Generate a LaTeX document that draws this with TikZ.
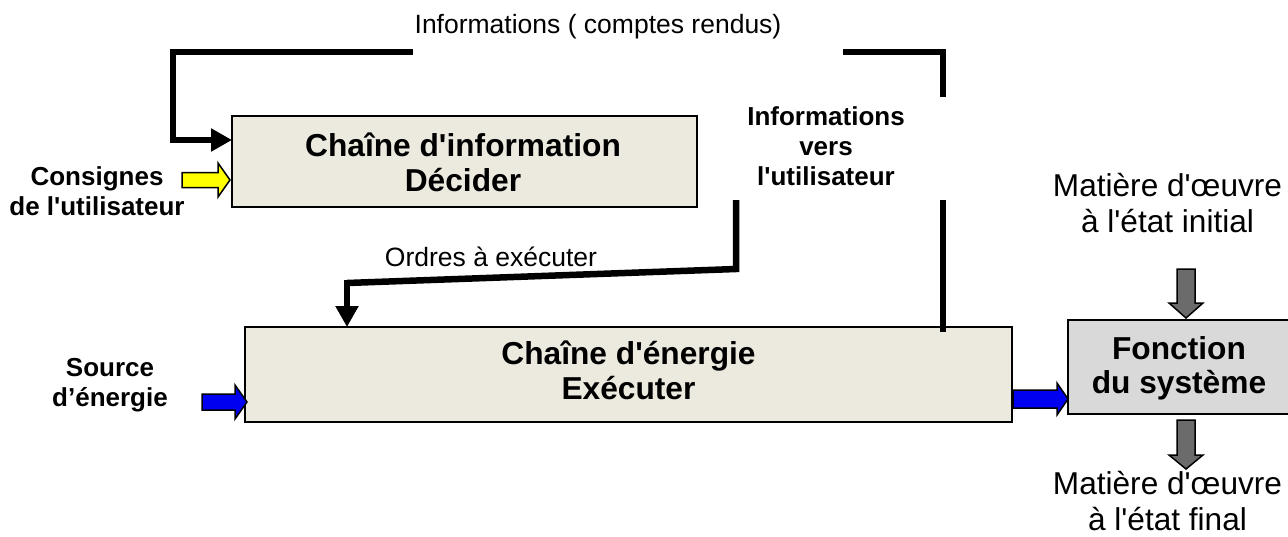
\documentclass[tikz,border=0pt]{standalone}
\usepackage{fontspec}
\setmainfont{Liberation Sans}
\usetikzlibrary{arrows.meta,calc}
\newcommand\aq{\textquotesingle}
\definecolor{beige}{HTML}{ECE9DF}
\definecolor{boxgray}{HTML}{D9D9D9}
\definecolor{arrgray}{HTML}{6B6B6B}
\definecolor{myblue}{HTML}{0000F0}
\definecolor{myyellow}{HTML}{FFFF00}
\tikzset{
  chainbox/.style={draw=black, line width=2pt, fill=beige},
  thick line/.style={line width=6.5pt, line cap=butt},
  feedarrow/.style={thick line, -{Triangle[width=22pt,length=21pt]}},
  small/.style={font=\fontsize{26.5}{30.5}\selectfont, align=center, inner sep=0pt},
  smallbold/.style={font=\bfseries\fontsize{26}{30}\selectfont, align=center, inner sep=0pt},
  boxtext/.style={font=\bfseries\fontsize{31.7}{34.5}\selectfont, align=center, inner sep=0pt},
  big/.style={font=\fontsize{31.6}{35.5}\selectfont, align=center, inner sep=0pt},
  blockarrow/.style={draw=black, line width=1.5pt, line join=miter},
}
\begin{document}
\begin{tikzpicture}[x=1pt,y=-1pt]
\useasboundingbox (0,0) rectangle (1288,536);

% boxes
\draw[chainbox] (232,116) rectangle (697,207);
\node[boxtext] (info) at (463,162.5) {Chaîne d\aq information\\Décider};
\draw[chainbox] (245,327) rectangle (1012,422);
\node[boxtext] (energ) at (628.5,370.5) {Chaîne d\aq énergie\\Exécuter};
\draw[draw=black, line width=2pt, fill=boxgray] (1068,320) rectangle (1289,414);
\node[boxtext] (fct) at (1179,368.5) {Fonction\\du système};

% texts
\node[small] (comptes) at (598,27) {Informations ( comptes rendus)};
\node[smallbold] (consignes) at (97,191) {Consignes\\de l\aq utilisateur};
\node[smallbold] (versutil) at (826,146) {Informations\\vers\\l\aq utilisateur};
\node[small] (ordres) at (491,257) {Ordres à exécuter};
\node[smallbold] (source) at (110,385) {Source\\d’énergie};
\node[big] (mi) at (1167.5,203) {Matière d\aq œuvre\\à l\aq état initial};
\node[big] (mf) at (1167.5,501) {Matière d\aq œuvre\\à l\aq état final};

% feedback lines (comptes rendus)
\coordinate (fa) at (413,52);
\coordinate (fb) at (173,52);
\coordinate (fc) at (173,140);
\coordinate (fd) at (232,140);
\draw[thick line] (fa) -- (fb) -- (fc);
\draw[feedarrow] ($(fc)+(-3,0)$) -- (fd);
\coordinate (fe) at (843,52);
\coordinate (ff) at (943,52);
\coordinate (fg) at (943,97);
\draw[thick line] (fe) -- (ff) -- (fg);
\coordinate (fh) at (943,200);
\coordinate (fi) at (943,332);
\draw[thick line] (fh) -- (fi);

% orders
\coordinate (oa) at (736,200);
\coordinate (ob) at (736,269);
\coordinate (oc) at (347,283);
\coordinate (od) at (347,327);
\draw[thick line] (oa) -- (ob) -- (oc);
\draw[feedarrow] ($(oc)+(0,-3)$) -- (od);

% block arrows
\filldraw[blockarrow, fill=myyellow] (182,172.5) -- (218,172.5) -- (218,163) -- (230,180) -- (218,197) -- (218,187.5) -- (182,187.5) -- cycle;
\filldraw[blockarrow, fill=myblue] (202,394) -- (235,394) -- (235,385) -- (247,402) -- (235,419) -- (235,410) -- (202,410) -- cycle;
\filldraw[blockarrow, fill=myblue] (1013,390) -- (1057,390) -- (1057,383) -- (1068,399) -- (1057,415) -- (1057,408) -- (1013,408) -- cycle;
\filldraw[blockarrow, fill=arrgray] (1177,269) -- (1177,303) -- (1169,303) -- (1186,318) -- (1203,303) -- (1195,303) -- (1195,269) -- cycle;
\filldraw[blockarrow, fill=arrgray] (1177,420) -- (1177,455) -- (1169,455) -- (1186,469) -- (1203,455) -- (1195,455) -- (1195,420) -- cycle;
\end{tikzpicture}
\end{document}
